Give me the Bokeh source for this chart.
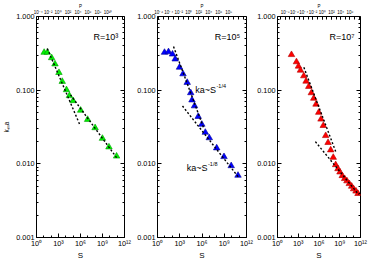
from bokeh.plotting import figure
from bokeh.layouts import row
from bokeh.models import Range1d, LogAxis, FixedTicker, CustomJSTickFormatter, Label, LogScale
from bokeh.embed import file_html
from bokeh.resources import INLINE

# ---------------- data ----------------
R_LABELS = ["R=10\u00b3", "R=10\u2075", "R=10\u2077"]

S1 = [11, 30, 115, 331, 1150, 3240, 1.23e4, 3.09e4, 9.77e4, 1.05e6, 9.3e6, 9.8e7, 9.8e8, 7.6e9, 8.3e10]
K1 = [0.325, 0.325, 0.275, 0.226, 0.173, 0.131, 0.101, 0.084, 0.0718, 0.0532, 0.0399, 0.0308, 0.0221, 0.0169, 0.0127]
FIT1A_S = [30, 7.8e5]
FIT1A_K = [0.367, 0.0342]
FIT1B_S = [4.3e4, 8.3e10]
FIT1B_K = [0.0865, 0.01217]

S2 = [8.8, 30.4, 105, 243, 925, 2740, 1.01e4, 2.99e4, 4.48e4, 9.75e4, 3.07e5, 9.4e5, 2.79e6, 9.6e6, 9.6e7, 9.25e8, 8.65e9, 7.15e10]
K2 = [0.325, 0.331, 0.308, 0.264, 0.204, 0.166, 0.127, 0.092, 0.0734, 0.061, 0.0438, 0.0343, 0.0267, 0.0225, 0.0164, 0.01248, 0.0094, 0.00697]
FIT2A_S = [145, 1.58e6]
FIT2A_K = [0.391, 0.0311]
FIT2B_S = [2340, 8.3e10]
FIT2B_K = [0.061, 0.0066]

S3 = [105, 550, 1070, 2090, 6310, 1.35e4, 3.31e4, 7.76e4, 1.74e5, 3.72e5, 9.1e5, 1.95e6, 4.17e6, 9.3e6,
      2.04e7, 4.9e7, 1.15e8, 2.57e8, 5.5e8, 1.07e9, 2.29e9, 5.1e9, 1.1e10, 2.4e10, 5.25e10, 1.02e11, 2.24e11, 4.37e11]
K3 = [0.303, 0.242, 0.211, 0.186, 0.156, 0.132, 0.112, 0.0918, 0.0774, 0.0643, 0.0498, 0.0403, 0.033, 0.0241,
      0.0194, 0.0154, 0.0122, 0.0097, 0.00855, 0.00772, 0.00689, 0.00628, 0.00585, 0.00537, 0.00495, 0.00456, 0.00425, 0.00394]
FIT3A_S = [6460, 3.24e8]
FIT3A_K = [0.204, 0.0139]
FIT3B_S = [3.0e5, 5.6e11]
FIT3B_K = [0.02, 0.00382]

X_TICKS = [1, 1e3, 1e6, 1e9, 1e12]
X_MINOR = [10.0 ** e for e in range(0, 13)]
Y_TICKS = [0.001, 0.01, 0.1, 1.0]
Y_MINOR = [m * 10.0 ** e for e in (-3, -2, -1) for m in range(2, 10)]

# top P axis (exponent range of each panel, labelled exponents)
P_EXP_RANGE = [(-4.34, 13.32), (-6.26, 11.54), (-9.66, 8.27)]
P_LABEL_EXP = [[-4, -2, 0, 2, 4, 6, 8, 10], [-6, -4, -2, 0, 2, 4, 6, 8], [-8, -6, -4, -2, 0, 2, 4, 6]]

FONT = "Liberation Sans"

SUP_JS = """
const sup = {"-":"\u207b","0":"\u2070","1":"\u00b9","2":"\u00b2","3":"\u00b3","4":"\u2074","5":"\u2075","6":"\u2076","7":"\u2077","8":"\u2078","9":"\u2079"};
const e = Math.round(Math.log10(tick));
return "10" + String(e).split("").map(c => sup[c]).join("");
"""


def style_axis(ax, tick_len=4, minor_len=2):
    ax.axis_line_color = None
    ax.major_tick_in = tick_len
    ax.major_tick_out = 0
    ax.minor_tick_in = minor_len
    ax.minor_tick_out = 0
    ax.major_tick_line_color = "black"
    ax.minor_tick_line_color = "black"
    ax.major_label_text_font = FONT
    ax.major_label_text_color = "black"
    ax.axis_label_text_font = FONT
    ax.axis_label_text_font_style = "normal"
    ax.axis_label_text_color = "black"


def txt(p, x, y, text, size, align="left", baseline="middle"):
    p.add_layout(Label(x=x, y=y, text=text, text_font=FONT, text_font_size=size,
                       text_align=align, text_baseline=baseline, text_color="black"))


def make_panel(idx, S, K, fa_s, fa_k, fb_s, fb_k, color, edge, width, bl, br, ylabel):
    lo, hi = P_EXP_RANGE[idx]
    p = figure(width=width, height=262, x_axis_type="log", y_axis_type="log",
               x_range=Range1d(1, 1e12), y_range=Range1d(1e-3, 1.0),
               output_backend="svg", toolbar_location=None,
               min_border_left=bl, min_border_right=br, min_border_top=15, min_border_bottom=24)
    p.extra_x_ranges = {"P": Range1d(10.0 ** lo, 10.0 ** hi)}
    p.extra_x_scales = {"P": LogScale()}
    p.grid.visible = False
    p.outline_line_color = "black"
    p.outline_line_width = 1
    p.background_fill_color = "white"
    p.border_fill_color = "white"

    xa = p.xaxis[0]
    xa.ticker = FixedTicker(ticks=X_TICKS, minor_ticks=X_MINOR)
    xa.formatter = CustomJSTickFormatter(code=SUP_JS)
    style_axis(xa)
    xa.major_label_text_font_size = "7.3px"
    xa.major_label_standoff = 1
    xa.axis_label = "S"
    xa.axis_label_text_font_size = "8px"
    xa.axis_label_standoff = 0

    ya = p.yaxis[0]
    ya.ticker = FixedTicker(ticks=Y_TICKS, minor_ticks=Y_MINOR)
    ya.formatter = CustomJSTickFormatter(code="return tick.toFixed(3);")
    style_axis(ya)
    ya.major_label_text_font_size = "7.3px"
    ya.major_label_standoff = 2
    if ylabel:
        ya.axis_label = "k\u2098a"
        ya.axis_label_text_font_size = "6.5px"
        ya.axis_label_standoff = 3

    ra = LogAxis(ticker=FixedTicker(ticks=Y_TICKS, minor_ticks=Y_MINOR),
                 formatter=CustomJSTickFormatter(code="return '';"))
    style_axis(ra)
    p.add_layout(ra, "right")

    pt = [10.0 ** e for e in P_LABEL_EXP[idx]]
    pm = [10.0 ** e for e in range(int(lo) - 1, int(hi) + 2)]
    ta = LogAxis(x_range_name="P", ticker=FixedTicker(ticks=pt, minor_ticks=pm),
                 formatter=CustomJSTickFormatter(code=SUP_JS))
    style_axis(ta, tick_len=3, minor_len=3)
    ta.major_label_text_font_size = "4.5px"
    ta.major_label_standoff = 2
    ta.axis_label = "P"
    ta.axis_label_text_font_size = "4.5px"
    ta.axis_label_standoff = -2
    p.add_layout(ta, "above")

    p.scatter(S, K, marker="triangle", size=6.5, fill_color=color, line_color=edge, line_width=0.6)
    p.line(fa_s, fa_k, line_color="black", line_dash="2 2", line_width=1.4)
    p.line(fb_s, fb_k, line_color="black", line_dash="2 2", line_width=1.4)

    txt(p, 1.4e11, 0.52, R_LABELS[idx], "9px", align="right")
    return p


p1 = make_panel(0, S1, K1, FIT1A_S, FIT1A_K, FIT1B_S, FIT1B_K, "#00f000", "#00a000", 133, 35, 9, True)
p2 = make_panel(1, S2, K2, FIT2A_S, FIT2A_K, FIT2B_S, FIT2B_K, "#0000ff", "#000099", 121, 24, 8, False)
p3 = make_panel(2, S3, K3, FIT3A_S, FIT3A_K, FIT3B_S, FIT3B_K, "#ff0000", "#b00000", 120, 23, 14, False)

# power-law annotations in the middle panel
txt(p2, 1.2e5, 0.102, "ka~S", "9px")
txt(p2, 9e7, 0.115, "-1/4", "5.5px")
txt(p2, 8.9e3, 0.00883, "ka~S", "9px")
txt(p2, 6.5e6, 0.0098, "-1/8", "5.5px")

layout = row(p1, p2, p3)
open("out.html", "w").write(file_html(layout, INLINE))
